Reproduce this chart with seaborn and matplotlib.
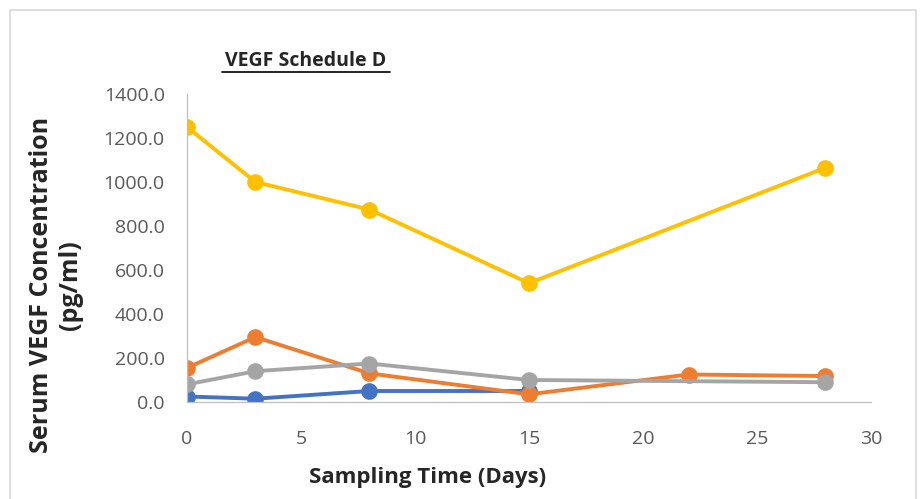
import matplotlib.pyplot as plt
import matplotlib.patches as patches
import pandas as pd
import seaborn as sns

# Data
series_names = ['S1', 'S2', 'S3', 'S4']
days_s1 = [0, 3, 8, 15]
vals_s1 = [25, 15, 50, 50]
days_s2 = [0, 3, 8, 15, 22, 28]
vals_s2 = [155, 295, 130, 35, 125, 118]
days_s3 = [0, 3, 8, 15, 28]
vals_s3 = [80, 140, 175, 100, 90]
days_s4 = [0, 3, 8, 15, 28]
vals_s4 = [1250, 1000, 875, 540, 1065]
colors = ['#4472C4', '#ED7D31', '#A5A5A5', '#FFC000']
x_ticks = [0, 5, 10, 15, 20, 25, 30]
y_ticks = [0, 200, 400, 600, 800, 1000, 1200, 1400]

frames = []
for name, d, v in zip(series_names, [days_s1, days_s2, days_s3, days_s4],
                      [vals_s1, vals_s2, vals_s3, vals_s4]):
    frames.append(pd.DataFrame({'day': d, 'value': v, 'series': name}))
df = pd.concat(frames, ignore_index=True)

sns.set_style('white')
plt.rcParams['font.family'] = ['Open Sans', 'DejaVu Sans']

fig = plt.figure(figsize=(9.24, 4.99), dpi=100)
ax = fig.add_axes([187 / 924, 1 - 402 / 499, (871 - 187) / 924, (402 - 94) / 499])

sns.lineplot(data=df, x='day', y='value', hue='series', palette=colors,
             hue_order=series_names, marker='o', markersize=12, linewidth=2.8,
             markeredgewidth=0, legend=False, ax=ax)

ax.set_xlim(0, 30)
ax.set_ylim(0, 1400)
ax.set_xticks(x_ticks)
ax.set_yticks(y_ticks)
ax.set_yticklabels([f'{t:.1f}' for t in y_ticks])
ax.tick_params(axis='both', labelsize=14, colors='#595959', length=0)
ax.tick_params(axis='x', pad=20)
ax.tick_params(axis='y', pad=16)
for side in ['top', 'right']:
    ax.spines[side].set_visible(False)
for side in ['left', 'bottom']:
    ax.spines[side].set_color('#BFBFBF')
    ax.spines[side].set_linewidth(0.9)

ax.set_xlabel('')
ax.set_ylabel('')
fig.text(428 / 924, 1 - 478 / 499, 'Sampling Time (Days)', ha='center', va='center',
         fontsize=16, fontweight='bold')
fig.text(56 / 924, 1 - 285 / 499, 'Serum VEGF Concentration\n(pg/ml)', ha='center', va='center',
         rotation=90, fontsize=18, fontweight='bold', linespacing=1.25)
fig.text(306 / 924, 1 - 61 / 499, 'VEGF Schedule D', ha='center', va='center',
         fontsize=14, fontweight='bold')
fig.add_artist(plt.Line2D([222 / 924, 390 / 924], [1 - 72 / 499, 1 - 72 / 499],
                          color='black', linewidth=1.2))

# Light frame around the chart area
fig.add_artist(patches.Rectangle((10 / 924, -0.05), 906 / 924, 1.05 - 10 / 499,
                                 transform=fig.transFigure, fill=False,
                                 edgecolor='#D9D9D9', linewidth=1.2))

fig.savefig('out.png', dpi=100)
